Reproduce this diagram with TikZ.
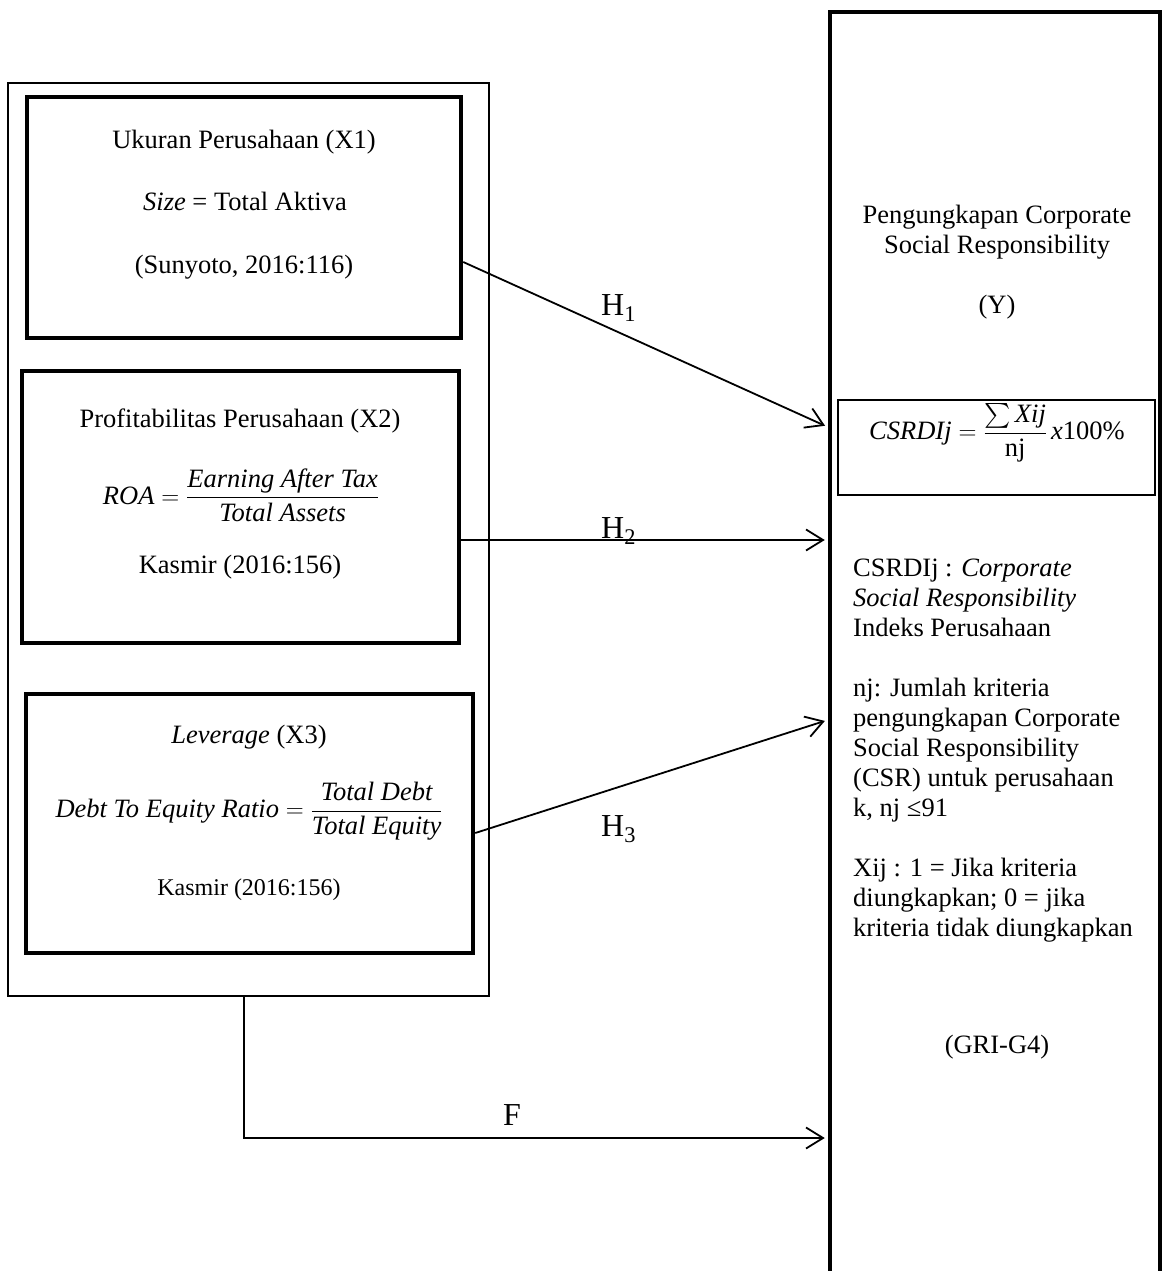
\documentclass[tikz,border=0pt]{standalone}
\usepackage{amsmath}
\usepackage{fontspec}
\setmainfont{Liberation Serif}
\usetikzlibrary{arrows.meta,positioning}
\begin{document}
\begin{tikzpicture}[x=1pt, y=-1pt, font=\fontsize{26.5}{30}\selectfont,
  var/.style = {draw, line width=4.5pt, inner sep=0pt},
  grpbox/.style = {draw, line width=1.8pt, inner sep=0pt},
  txt/.style = {inner sep=0pt, anchor=base},
  hyp/.style = {inner sep=0pt, anchor=base west, font=\fontsize{32}{36}\selectfont},
  arr/.style = {line width=1.8pt, shorten >=3pt, -{Straight Barb[length=17pt, width=21pt, line width=1.8pt]}}]
\useasboundingbox (0,0) rectangle (1165,1271);
% independent variables
\node[grpbox, minimum width=481, minimum height=913] (grp) at (248.5,539.5) {};
\node[var, minimum width=434, minimum height=241] (x1) at (244,217.5) {};
\node[var, minimum width=437, minimum height=272] (x2) at (240.5,507) {};
\node[var, minimum width=447, minimum height=259] (x3) at (249.5,823.5) {};
\node[txt] (x1name) at (244,149) {Ukuran Perusahaan (X1)};
\node[txt] (x1ind) at (245,210) {\textit{Size} = Total Aktiva};
\node[txt] (x1ref) at (244,273) {(Sunyoto, 2016:116)};
\node[txt] (x2name) at (240,427) {Profitabilitas Perusahaan (X2)};
\node[inner sep=0pt] (x2ind) at (241,495) {$\textit{ROA} = \dfrac{\textit{Earning After Tax}}{\textit{Total Assets}}$};
\node[txt] (x2ref) at (240,573) {Kasmir (2016:156)};
\node[txt] (x3name) at (249,743) {\textit{Leverage} (X3)};
\node[inner sep=0pt] (x3ind) at (249,811) {$\textit{Debt To Equity Ratio} = \dfrac{\textit{Total Debt}}{\textit{Total Equity}}$};
\node[txt, font=\fontsize{24}{28}\selectfont] (x3ref) at (249,895) {Kasmir (2016:156)};
% dependent variable
\node[var, minimum width=330, minimum height=1278] (y) at (995,651) {};
\node[draw, line width=2pt, minimum width=317, minimum height=95] (csr) at (996.5,447.5) {};
\node[align=center, inner sep=0pt] (yname) at (997,232) {Pengungkapan Corporate\\Social Responsibility};
\node[txt] (ysym) at (997,313) {(Y)};
\node[inner sep=0pt] (yind) at (997,433) {$\textit{CSRDIj} = \dfrac{\sum\textit{Xij}}{\text{nj}}\,\textit{x}\text{100\%}$};
\node[align=left, anchor=north west, inner sep=0pt] (ydesc) at (853,559) {CSRDIj : \textit{Corporate}\\\textit{Social Responsibility}\\Indeks Perusahaan\\[30pt]nj: Jumlah kriteria\\pengungkapan Corporate\\Social Responsibility\\(CSR) untuk perusahaan\\k, nj ≤91\\[30pt]Xij : 1 = Jika kriteria\\diungkapkan; 0 = jika\\kriteria tidak diungkapkan};
\node[txt] (yref) at (997,1053) {(GRI-G4)};
% hypotheses
\node[hyp] (h1) at (601,315) {H\textsubscript{1}};
\node[hyp] (h2) at (601,538) {H\textsubscript{2}};
\node[hyp] (h3) at (601,836) {H\textsubscript{3}};
\node[hyp] (f) at (503,1125) {F};
\coordinate (fturn) at (244,1138);
\draw[arr] (x1.east |- 0,262) -- (y.west |- 0,427);
\draw[arr] (x2.east |- 0,540) -- (y.west |- 0,540);
\draw[arr] (x3.east |- 0,833) -- (y.west |- 0,720);
\draw[arr] (grp.south -| fturn) -- (fturn) -- (y.west |- fturn);
\end{tikzpicture}
\end{document}
